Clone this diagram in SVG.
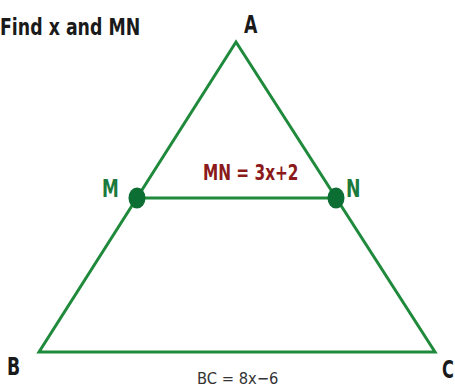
<svg xmlns="http://www.w3.org/2000/svg" width="455" height="389" viewBox="0 0 455 389">
<style>
text{font-family:"DejaVu Sans Condensed","DejaVu Sans",sans-serif;font-stretch:condensed}
.lbl{font-weight:bold;font-size:24px;fill:#1a1a1a}
.g{font-weight:bold;font-size:24px;fill:#1b7a3c}
.edge{stroke:#1f8a3c;stroke-width:3;fill:none;stroke-linejoin:miter}
.dot{fill:#0d6e34}
</style>
<rect width="455" height="389" fill="#fff"/>
<text class="lbl" transform="translate(0,35) scale(0.84,1)" style="font-size:23px">Find x and MN</text>
<g id="connectors">
<polygon class="edge" points="236,42 39,352 435,352"/>
<line class="edge" x1="137" y1="198" x2="336" y2="198"/>
</g>
<g id="A"><text class="lbl" transform="translate(244,33) scale(0.8,1)">A</text></g>
<g id="B"><text class="lbl" transform="translate(7,375) scale(0.8,1)">B</text></g>
<g id="C"><text class="lbl" transform="translate(442,378) scale(0.75,1)">C</text></g>
<g id="M"><ellipse class="dot" cx="137" cy="198" rx="8.5" ry="10.5"/><text class="g" transform="translate(102,197) scale(0.78,1)">M</text></g>
<g id="N"><ellipse class="dot" cx="336" cy="198" rx="8.5" ry="10.5"/><text class="g" transform="translate(346,197) scale(0.8,1)">N</text></g>
<text transform="translate(203,180) scale(0.83,1)" style="font-weight:bold;font-size:20.5px;fill:#8b1a1a">MN = 3x+2</text>
<text transform="translate(197,384) scale(1.02,1)" style="font-size:16px;fill:#333">BC = 8x−6</text>
</svg>
